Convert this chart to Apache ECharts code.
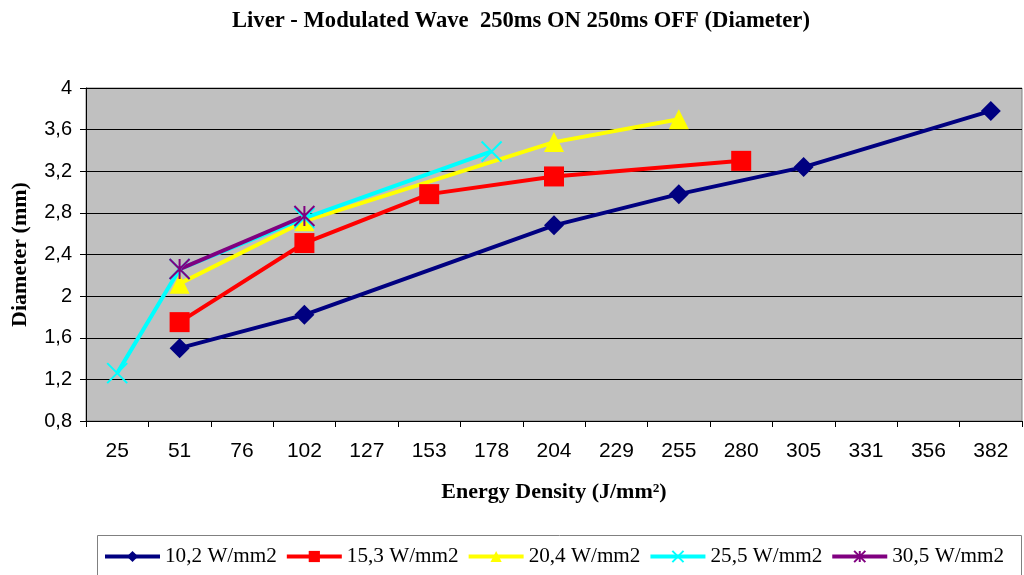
<!DOCTYPE html>
<html><head><meta charset="utf-8">
<script src="https://cdn.jsdelivr.net/npm/echarts@6/dist/echarts.min.js"></script>
<style>html,body{margin:0;padding:0;background:#fff}#c{width:1024px;height:575px}</style>
</head><body><div id="c"></div>
<script>
const categories = ['25','51','76','102','127','153','178','204','229','255','280','305','331','356','382'];
const seriesNames = ['10,2 W/mm2','15,3 W/mm2','20,4 W/mm2','25,5 W/mm2','30,5 W/mm2'];
const s10 = [null,1.50,null,1.82,null,null,null,2.68,null,2.98,null,3.24,null,null,3.78];
const s15 = [null,1.75,null,2.51,null,2.98,null,3.15,null,null,3.30,null,null,null,null];
const s20 = [null,2.12,null,2.72,null,null,null,3.48,null,3.70,null,null,null,null,null];
const s25 = [1.26,2.26,null,2.75,null,null,3.39,null,null,null,null,null,null,null,null];
const s30 = [null,2.26,null,2.77,null,null,null,null,null,null,null,null,null,null,null];
const yTicks = {min:0.8, max:4, interval:0.4};

const cross = 'path://M0,0 L10,10 M10,0 L0,10';
const star = 'path://M0,0 L10,10 M10,0 L0,10 M5,0 L5,10';
const chart = echarts.init(document.getElementById('c'));
function mk(name, data, color, symbol, size, extra) {
  return Object.assign({
    name, type:'line', data, connectNulls:true, symbol, symbolSize:size,
    lineStyle:{color, width:4}, itemStyle:{color}, emphasis:{disabled:true}
  }, extra||{});
}
const serif = 'Liberation Serif';
chart.setOption({
  animation:false,
  title:{text:'Liver - Modulated Wave  250ms ON 250ms OFF (Diameter)', left:227, top:5,
    textStyle:{fontFamily:serif, fontWeight:'bold', fontSize:22.6, color:'#000'}},
  grid:{left:86, right:2, top:88, bottom:154, show:true, backgroundColor:'#C0C0C0', borderColor:'#808080', borderWidth:1},
  xAxis:{type:'category', data:categories, boundaryGap:true,
    name:'Energy Density (J/mm²)', nameLocation:'middle', nameGap:60,
    nameTextStyle:{fontFamily:serif, fontWeight:'bold', fontSize:22, color:'#000'},
    axisLine:{lineStyle:{color:'#000', width:1}},
    axisTick:{show:true, interval:0, length:6, lineStyle:{color:'#000'}},
    axisLabel:{interval:0, margin:20, fontFamily:'Liberation Sans', fontSize:21, color:'#000'},
    splitLine:{show:false}},
  yAxis:{type:'value', min:yTicks.min, max:yTicks.max, interval:yTicks.interval,
    name:'Diameter (mm)', nameLocation:'middle', nameGap:55,
    nameTextStyle:{fontFamily:serif, fontWeight:'bold', fontSize:22, color:'#000'},
    axisLine:{show:true, lineStyle:{color:'#000', width:1}},
    axisTick:{show:true, length:6, lineStyle:{color:'#000'}},
    axisLabel:{margin:14, fontFamily:'Liberation Sans', fontSize:20, color:'#000',
      formatter:v=>String(Math.round(v*10)/10).replace('.',',')},
    splitLine:{lineStyle:{color:'#000', width:1}}},
  legend:{left:98, top:541, itemWidth:55, itemHeight:14, itemGap:8,
    lineStyle:{width:4},
    textStyle:{fontFamily:serif, fontSize:21.2, color:'#000'},
    data:seriesNames},
  graphic:[{type:'rect', shape:{x:97.5, y:535.5, width:924, height:50}, style:{fill:'none', stroke:'#808080', lineWidth:1}, silent:true}],
  series:[
    mk(seriesNames[0], s10, '#000080', 'diamond', 20),
    mk(seriesNames[1], s15, '#FF0000', 'rect', 20),
    mk(seriesNames[2], s20, '#FFFF00', 'triangle', 20),
    mk(seriesNames[3], s25, '#00FFFF', cross, 20, {itemStyle:{color:'#00FFFF', borderColor:'#00FFFF', borderWidth:2}}),
    mk(seriesNames[4], s30, '#800080', star, 20, {itemStyle:{color:'#800080', borderColor:'#800080', borderWidth:2}})
  ]
});
</script></body></html>
